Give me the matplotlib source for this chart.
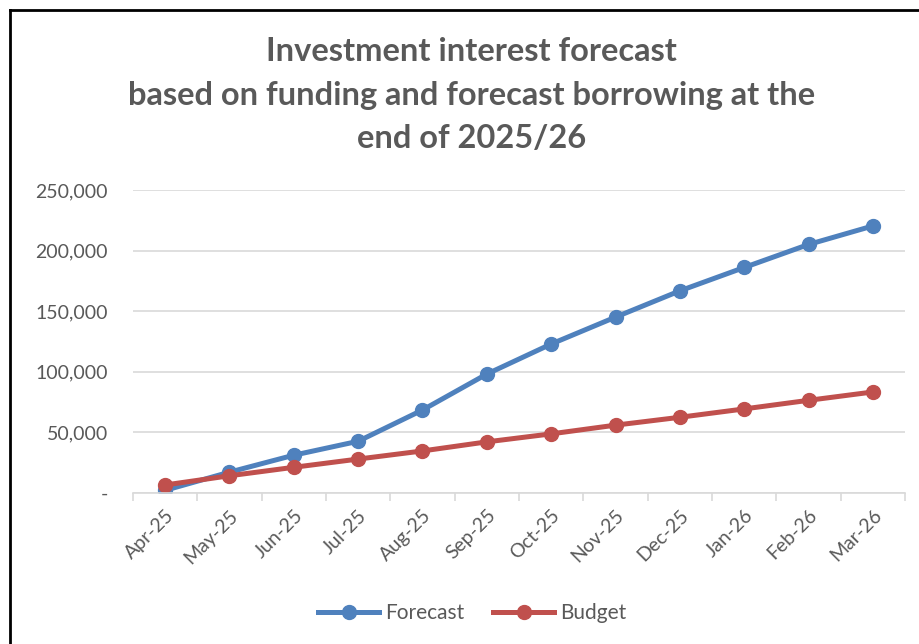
import matplotlib.pyplot as plt
from matplotlib.lines import Line2D
from matplotlib.ticker import FuncFormatter, FixedLocator
import numpy as np

# Data
months = ['Apr-25', 'May-25', 'Jun-25', 'Jul-25', 'Aug-25', 'Sep-25',
          'Oct-25', 'Nov-25', 'Dec-25', 'Jan-26', 'Feb-26', 'Mar-26']
forecast = [2000, 17000, 31000, 42500, 68300, 98000,
            122800, 145000, 166700, 186000, 205000, 220300]
budget = [6400, 14000, 21000, 27800, 34500, 42000,
          48600, 55800, 62300, 69200, 76300, 83200]

blue = '#4F81BD'
red = '#C0504D'
grey_txt = '#595959'
grid_col = '#D9D9D9'

plt.rcParams['font.family'] = ['Lato', 'DejaVu Sans']

fig = plt.figure(figsize=(9.19, 6.44), dpi=100)
ax = fig.add_axes([0.1447, 0.2349, 0.8401, 0.4701])

x = np.arange(len(months))
ax.plot(x, forecast, color=blue, lw=3.6, marker='o', ms=10, label='Forecast',
        solid_capstyle='round')
ax.plot(x, budget, color=red, lw=3.6, marker='o', ms=10, label='Budget',
        solid_capstyle='round')

ax.set_xlim(-0.5, len(months) - 0.5)
ax.set_ylim(0, 250000)
ax.set_yticks(np.arange(0, 250001, 50000))
ax.yaxis.set_major_formatter(FuncFormatter(lambda v, p: '-' if v == 0 else f'{int(v):,}'))
ax.yaxis.grid(True, color=grid_col, lw=1.2)
ax.set_axisbelow(True)

ax.set_xticks(x)
ax.set_xticklabels(months, rotation=45, ha='right', rotation_mode='anchor')
ax.xaxis.set_minor_locator(FixedLocator(np.arange(-0.5, len(months), 1)))
ax.tick_params(axis='x', which='major', length=0, pad=10, labelsize=14, labelcolor=grey_txt)
ax.tick_params(axis='x', which='minor', length=6, width=1.2, color=grid_col, direction='out')
ax.tick_params(axis='y', length=0, pad=18, labelsize=14, labelcolor=grey_txt)

for s in ['top', 'right', 'left']:
    ax.spines[s].set_visible(False)
ax.spines['bottom'].set_color(grid_col)
ax.spines['bottom'].set_linewidth(1.2)

fig.text(0.513, 0.852, 'Investment interest forecast\nbased on funding and forecast borrowing at the\nend of 2025/26',
         ha='center', va='center', fontsize=23.5, fontweight='bold', color=grey_txt,
         linespacing=1.6)

handles = [Line2D([0], [0], color=blue, lw=3.6, marker='o', ms=10),
           Line2D([0], [0], color=red, lw=3.6, marker='o', ms=10)]
fig.legend(handles, ['Forecast', 'Budget'], loc='center', bbox_to_anchor=(0.514, 0.048),
           ncol=2, frameon=False, fontsize=15, labelcolor=grey_txt,
           handlelength=2.9, handletextpad=0.3, columnspacing=1.4)

# chart border (left and top edges visible)
fig.add_artist(Line2D([10 / 919, 10 / 919], [0, 1 - 10 / 644], color='black', lw=2,
                      transform=fig.transFigure))
fig.add_artist(Line2D([10 / 919, 1], [1 - 10 / 644, 1 - 10 / 644], color='black', lw=2,
                      transform=fig.transFigure))

fig.savefig('out.png', dpi=100, facecolor='white')
